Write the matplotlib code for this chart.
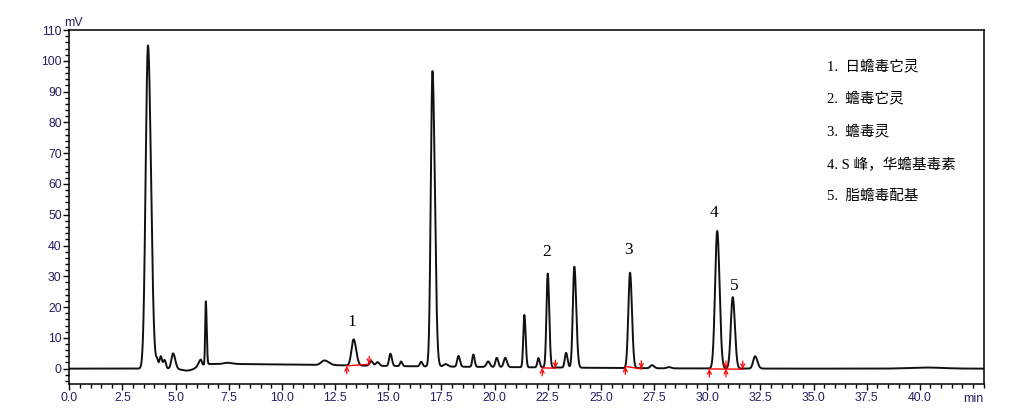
import numpy as np
import matplotlib
matplotlib.use("Agg")
import matplotlib.pyplot as plt
from matplotlib.ticker import MultipleLocator, FixedLocator, FormatStrFormatter

# peak table (min, mV above baseline, left/right widths)
peak_rt = [3.70, 4.13, 4.30, 4.48, 4.88, 5.60, 6.18, 6.42, 7.40, 12.00, 13.37, 14.20, 14.50,
           15.10, 15.60, 16.55, 17.08, 17.70, 18.30, 19.00, 19.70, 20.10, 20.50, 21.40, 22.06,
           22.50, 23.36, 23.75, 26.37, 27.40, 28.20, 30.47, 31.20, 32.25]
peak_h = [105.0, 2.5, 4.0, 2.8, 5.0, -0.8, 2.0, 20.5, 0.4, 1.5, 8.5, 1.5, 1.2,
          4.0, 1.5, 1.5, 96.0, 0.8, 3.5, 4.0, 1.8, 3.0, 3.0, 17.0, 3.0,
          30.5, 4.8, 32.8, 31.0, 1.0, 0.4, 44.7, 23.2, 4.0]
peak_sl = [0.11, 0.05, 0.06, 0.06, 0.08, 0.30, 0.10, 0.03, 0.15, 0.15, 0.10, 0.08, 0.08,
           0.06, 0.05, 0.06, 0.08, 0.10, 0.06, 0.05, 0.08, 0.06, 0.07, 0.05, 0.05,
           0.06, 0.06, 0.07, 0.08, 0.08, 0.10, 0.10, 0.09, 0.09]
peak_sr = [0.14, 0.05, 0.06, 0.06, 0.10, 0.30, 0.05, 0.04, 0.25, 0.20, 0.12, 0.08, 0.08,
           0.07, 0.06, 0.06, 0.11, 0.10, 0.07, 0.06, 0.08, 0.07, 0.08, 0.06, 0.06,
           0.07, 0.07, 0.09, 0.09, 0.10, 0.10, 0.11, 0.10, 0.11]

# slow baseline drift humps
drift_rt = [6.6, 20.0, 40.3]
drift_h = [1.5, 0.35, 0.35]
drift_sl = [0.5, 5.0, 0.8]
drift_sr = [6.5, 5.0, 0.8]

# numbered peaks and legend
label_txt = ["1", "2", "3", "4", "5"]
label_x = [13.3, 22.47, 26.3, 30.3, 31.27]
label_y = [15.0, 37.8, 38.4, 50.7, 26.7]
legend_txt = ["1.  日蟾毒它灵", "2.  蟾毒它灵", "3.  蟾毒灵", "4. S 峰，华蟾基毒素", "5.  脂蟾毒配基"]
legend_y = [98.1, 87.7, 77.0, 66.3, 55.9]

# integration marks (start, [middle], end)
integ_marks = [[13.05, 14.10], [22.24, 22.86], [26.15, 26.90], [30.10, 30.88, 31.67]]

x_major = [0.0, 2.5, 5.0, 7.5, 10.0, 12.5, 15.0, 17.5, 20.0, 22.5, 25.0, 27.5,
           30.0, 32.5, 35.0, 37.5, 40.0]


def bigauss(t, c, h, sl, sr):
    s = np.where(t < c, sl, sr)
    return h * np.exp(-0.5 * ((t - c) / s) ** 2)


t = np.linspace(0, 43, 9000)
y = np.zeros_like(t)
for c, h, sl, sr in zip(peak_rt, peak_h, peak_sl, peak_sr):
    y += bigauss(t, c, h, sl, sr)
for c, h, sl, sr in zip(drift_rt, drift_h, drift_sl, drift_sr):
    y += bigauss(t, c, h, sl, sr)

plt.rcParams['font.family'] = ['Liberation Sans', 'DejaVu Sans']
fig = plt.figure(figsize=(10.3, 4.18), dpi=100)
ax = fig.add_axes([0.0673, 0.0813, 0.8877, 0.8467])

ax.plot(t, y, color='#111111', lw=1.4)

tick_col = '#202060'
for group in integ_marks:
    yy = np.interp(group, t, y) - 0.2
    ax.plot([group[0], group[-1]], [yy[0], yy[-1]], color='red', lw=1.0)
    for i, (xm, ym) in enumerate(zip(group, yy)):
        if i < len(group) - 1:
            ax.annotate('', xy=(xm, ym), xytext=(xm, ym - 2.6),
                        arrowprops=dict(arrowstyle='->', color='red', lw=0.9, mutation_scale=7,
                                        shrinkA=0, shrinkB=0))
        if i > 0:
            ax.annotate('', xy=(xm, ym), xytext=(xm, ym + 2.6),
                        arrowprops=dict(arrowstyle='->', color='red', lw=0.9, mutation_scale=7,
                                        shrinkA=0, shrinkB=0))

for s, xl, yl in zip(label_txt, label_x, label_y):
    ax.text(xl, yl, s, ha='center', va='center', fontsize=12.5,
            family=['Liberation Serif', 'DejaVu Serif'])

for s, yl in zip(legend_txt, legend_y):
    ax.text(35.64, yl, s, ha='left', va='center', fontsize=10.5,
            family=['Liberation Serif', 'Noto Sans CJK SC'])

ax.set_xlim(0, 43)
ax.set_ylim(-5, 110)
ax.xaxis.set_major_locator(FixedLocator(x_major))
ax.xaxis.set_minor_locator(MultipleLocator(0.5))
ax.yaxis.set_major_locator(MultipleLocator(10))
ax.yaxis.set_minor_locator(MultipleLocator(2))
ax.xaxis.set_major_formatter(FormatStrFormatter('%.1f'))
ax.tick_params(which='both', direction='out', colors='black', labelcolor=tick_col,
               labelsize=8.8, width=1.0)
ax.tick_params(which='major', length=4.5)
ax.tick_params(which='minor', length=3)
ax.tick_params(axis='x', pad=1.5)
ax.tick_params(axis='y', pad=1)
for sp in ax.spines.values():
    sp.set_linewidth(1.1)

ax.text(-0.006, 1.004, 'mV', transform=ax.transAxes, ha='left', va='bottom',
        fontsize=8.8, color=tick_col)
ax.text(1.0, -0.026, 'min', transform=ax.transAxes, ha='right', va='top',
        fontsize=8.8, color=tick_col)

fig.savefig('out.png', dpi=100)
